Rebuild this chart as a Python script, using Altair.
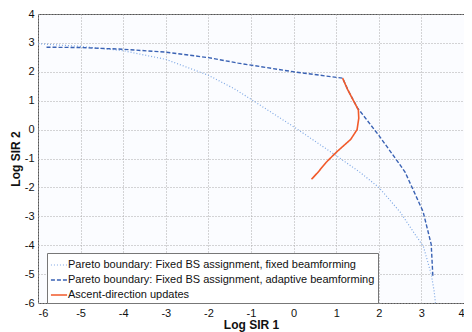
import altair as alt
import pandas as pd

# Pareto boundary: fixed BS assignment, fixed beamforming
fixed_x = [-6, -5, -4, -3, -2, -1.4, -1, 0, 1, 1.56, 2, 2.5, 3.05, 3.23, 3.3, 3.33]
fixed_y = [2.97, 2.88, 2.73, 2.43, 1.88, 1.42, 1.05, 0.1, -0.9, -1.48, -2.0, -2.85, -4.06, -5.0, -5.6, -6.0]

# Pareto boundary: fixed BS assignment, adaptive beamforming
adapt_x = [-5.8, -5, -4, -3, -2, -1.3, 0, 1.15, 1.3, 1.5, 2.0, 2.46, 2.62, 3.04, 3.23, 3.27]
adapt_y = [2.85, 2.84, 2.78, 2.68, 2.49, 2.3, 2.0, 1.78, 1.3, 0.75, -0.2, -1.14, -1.48, -2.84, -3.97, -5.1]

# Ascent-direction updates
ascent_x = [0.42, 0.57, 0.76, 0.99, 1.34, 1.49, 1.53, 1.52, 1.42, 1.26, 1.15]
ascent_y = [-1.72, -1.48, -1.14, -0.80, -0.34, 0.0, 0.39, 0.68, 0.96, 1.41, 1.78]

series_names = [
    "Pareto boundary: Fixed BS assignment, fixed beamforming",
    "Pareto boundary: Fixed BS assignment, adaptive beamforming",
    "Ascent-direction updates",
]
series_colors = ["#7fa8e4", "#3a62b4", "#f15a2b"]
series_dash = [[1, 2], [4, 2], [1, 0]]
series_width = [1.2, 1.6, 2.5]

ticks = [-6, -5, -4, -3, -2, -1, 0, 1, 2, 3, 4]

rows = []
for name, xs, ys in zip(series_names, [fixed_x, adapt_x, ascent_x], [fixed_y, adapt_y, ascent_y]):
    for i, (x, y) in enumerate(zip(xs, ys)):
        rows.append({"series": name, "x": x, "y": y, "i": i})
df = pd.DataFrame(rows)

font = "Liberation Sans"

chart = alt.Chart(df).mark_line().encode(
    x=alt.X("x:Q", scale=alt.Scale(domain=[-6, 4], nice=False),
            axis=alt.Axis(title="Log SIR 1", values=ticks, labelExpr="'' + datum.value")),
    y=alt.Y("y:Q", scale=alt.Scale(domain=[-6, 4], nice=False),
            axis=alt.Axis(title="Log SIR 2", values=ticks, labelExpr="'' + datum.value")),
    color=alt.Color("series:N", title=None,
                    scale=alt.Scale(domain=series_names, range=series_colors)),
    strokeDash=alt.StrokeDash("series:N", title=None,
                              scale=alt.Scale(domain=series_names, range=series_dash)),
    strokeWidth=alt.StrokeWidth("series:N", title=None,
                                scale=alt.Scale(domain=series_names, range=series_width)),
    order="i:Q",
).properties(
    width=426, height=289,
    autosize=alt.AutoSizeParams(type="none"),
    padding={"left": 30, "top": 6, "right": 0, "bottom": 30},
    background="white",
).configure_view(
    stroke="#555555", strokeWidth=1, fill="#fbfcff"
).configure_axis(
    labelFont=font, labelFontSize=11, labelColor="#111111",
    titleFont=font, titleFontSize=12, titleFontWeight="bold", titleColor="#111111",
    grid=True, gridDash=[1, 2], gridColor="#aaaaaa", gridOpacity=1,
    domain=False, ticks=False, labelPadding=4,
).configure_axisX(
    titlePadding=1,
).configure_axisY(
    titlePadding=2,
).configure_legend(
    orient="none", legendX=9, legendY=239,
    symbolType="stroke", symbolSize=260,
    labelFont=font, labelFontSize=11, labelColor="#111111", labelLimit=400,
    labelOffset=0, rowPadding=1, padding=3,
    fillColor="white", strokeColor="#777777",
)

chart.save("out.html", embed_options={"renderer": "svg", "actions": False})
